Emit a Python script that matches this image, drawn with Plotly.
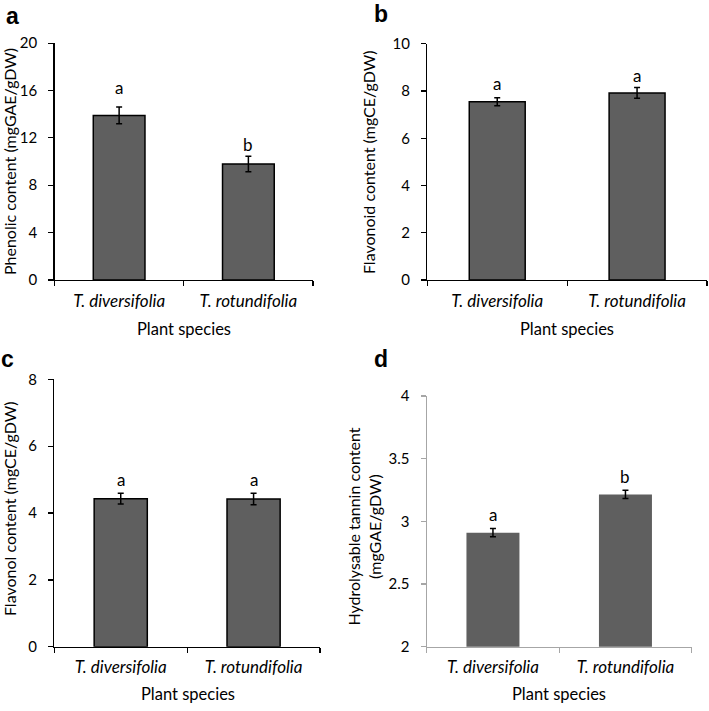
import plotly.graph_objects as go

W, H = 709, 711

species = ["T. diversifolia", "T. rotundifolia"]

phenolic = [13.9, 9.8]
phenolic_err = [0.7, 0.65]
phenolic_letters = ["a", "b"]

flavonoid = [7.55, 7.92]
flavonoid_err = [0.17, 0.23]
flavonoid_letters = ["a", "a"]

flavonol = [4.43, 4.42]
flavonol_err = [0.16, 0.17]
flavonol_letters = ["a", "a"]

tannin = [2.91, 3.215]
tannin_err = [0.033, 0.033]
tannin_letters = ["a", "b"]

y_titles = [
    "Phenolic content (mgGAE/gDW)",
    "Flavonoid content (mgCE/gDW)",
    "Flavonol content (mgCE/gDW)",
    "Hydrolysable tannin content<br>(mgGAE/gDW)",
]
x_title = "Plant species"
panel_labels = ["a", "b", "c", "d"]

y_ranges = [[0, 20], [0, 10], [0, 8], [2, 4]]
y_dticks = [4, 2, 2, 0.5]

FONT = "Lato"
BAR_COLOR = "#5f5f5f"

# panel boxes in pixels: (x0, x1, ytop, ybottom)
boxes = [
    (54.5, 313, 34, 277),
    (427.3, 707, 34.7, 277),
    (54.3, 320, 379, 653.3),
    (426.7, 691.7, 396, 653.3),
]

def px(x):
    return x / W

def py(y):
    return 1 - y / H

series = [
    (phenolic, phenolic_err, phenolic_letters),
    (flavonoid, flavonoid_err, flavonoid_letters),
    (flavonol, flavonol_err, flavonol_letters),
    (tannin, tannin_err, tannin_letters),
]
letter_shifts = [[20, 12], [14, 12], [14, 14], [14, 14]]

fig = go.Figure()
annotations = []
layout = {}

ticktext = ["<i>%s</i>" % s for s in species]

for i, (vals, errs, letters) in enumerate(series):
    n = i + 1
    xa = "x" if n == 1 else "x%d" % n
    ya = "y" if n == 1 else "y%d" % n
    axis_color = "#000000" if n < 4 else "#a6a6a6"
    line_w = 1.5 if n < 4 else 0
    fig.add_trace(go.Bar(
        x=species, y=vals, xaxis=xa, yaxis=ya, width=0.4,
        marker=dict(color=BAR_COLOR, line=dict(color="#000000", width=line_w)),
        error_y=dict(type="data", array=errs, visible=True, color="#000000",
                     thickness=1.5, width=3),
        showlegend=False, hoverinfo="skip",
    ))
    x0, x1, yt, yb = boxes[i]
    layout["xaxis" if n == 1 else "xaxis%d" % n] = dict(
        domain=[px(x0), px(x1)], anchor=ya, type="category",
        range=[-0.5, 1.5], tickvals=species, ticktext=ticktext,
        tickson="boundaries", ticks="outside", ticklen=5, tickwidth=1.2,
        tickcolor=axis_color, showline=True, linecolor=axis_color,
        linewidth=1.3 if n < 4 else 1.2, showgrid=False, zeroline=False,
        tickfont=dict(family=FONT, size=17, color="#000000"),
        ticklabelstandoff=5, fixedrange=True,
    )
    layout["yaxis" if n == 1 else "yaxis%d" % n] = dict(
        domain=[py(yb), py(yt)], anchor=xa, range=y_ranges[i],
        dtick=y_dticks[i], tick0=y_ranges[i][0], ticks="outside", ticklen=5,
        tickwidth=1.2, tickcolor=axis_color, showline=True,
        linecolor=axis_color, linewidth=1.3 if n < 4 else 1.2,
        showgrid=False, zeroline=False,
        tickfont=dict(family=FONT, size=15, color="#000000"),
        ticklabelstandoff=8, fixedrange=True,
    )
    for j, (v, e, lt) in enumerate(zip(vals, errs, letters)):
        annotations.append(dict(
            x=species[j], y=v + e, xref=xa, yref=ya, text=lt,
            showarrow=False, yanchor="middle", yshift=letter_shifts[i][j],
            font=dict(family=FONT, size=17, color="#000000"),
        ))

# axis titles and panel labels
ytitle_pos = [(9, 156), (368, 156), (9, 512), (364, 530)]
xtitle_pos = [(184, 327), (567, 327), (188, 702), (559, 702)]
label_pos = [(12, 6), (381, 4), (7, 358), (381, 358)]
for i in range(4):
    annotations.append(dict(
        x=px(ytitle_pos[i][0]), y=py(ytitle_pos[i][1]), xref="paper", yref="paper",
        text=y_titles[i], textangle=-90, showarrow=False,
        xanchor="center", yanchor="middle",
        font=dict(family=FONT, size=16, color="#000000"),
    ))
    annotations.append(dict(
        x=px(xtitle_pos[i][0]), y=py(xtitle_pos[i][1]), xref="paper", yref="paper",
        text=x_title, showarrow=False, xanchor="center", yanchor="middle",
        font=dict(family=FONT, size=16.5, color="#000000"),
    ))
    annotations.append(dict(
        x=px(label_pos[i][0]), y=py(label_pos[i][1]), xref="paper", yref="paper",
        text="<b>%s</b>" % panel_labels[i], showarrow=False,
        xanchor="center", yanchor="middle",
        font=dict(family="Liberation Sans", size=23, color="#000000"),
    ))

fig.update_layout(
    width=W, height=H, margin=dict(l=0, r=0, t=0, b=0),
    paper_bgcolor="#ffffff", plot_bgcolor="#ffffff",
    annotations=annotations, bargap=0.6, **layout,
)

fig.write_html(
    "out.html",
    config={"displayModeBar": False, "staticPlot": True},
    post_script="document.body.style.margin='0';document.body.style.overflow='hidden';",
)
